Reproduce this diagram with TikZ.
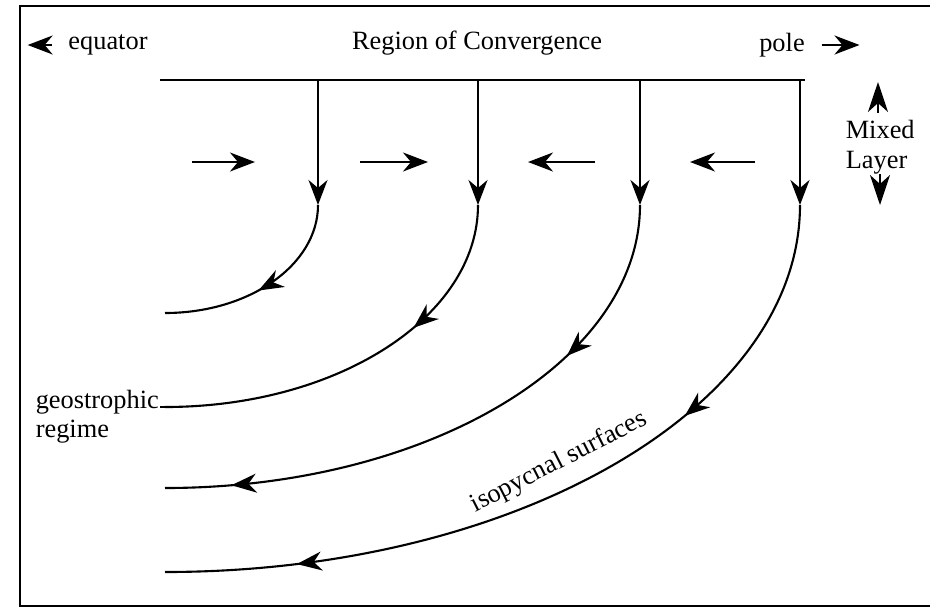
\documentclass[tikz,border=0pt]{standalone}
\usepackage{fontspec}
\setmainfont{Liberation Serif}
\usetikzlibrary{arrows.meta,decorations.markings,positioning}
\begin{document}
\begin{tikzpicture}[x=0.2mm,y=-0.2mm,
    line width=1.2pt,
    tip/.style={-{Stealth[length=5mm,width=3.8mm,inset=1.6mm]}},
    headonly/.style={-{Stealth[length=6mm,width=4mm,inset=1.8mm]},shorten <=-0.5pt},
    lbl/.style={font=\fontsize{15}{17}\selectfont,inner sep=1pt},
    midtip/.style={postaction={decorate},decoration={markings,
        mark=at position #1 with {\arrow{Stealth[length=5mm,width=3.8mm,inset=1.6mm]}}}},
    twotips/.style 2 args={postaction={decorate},decoration={markings,
        mark=at position #1 with {\arrow{Stealth[length=5mm,width=3.8mm,inset=1.6mm]}},
        mark=at position #2 with {\arrow{Stealth[length=5mm,width=3.8mm,inset=1.6mm]}}}}]
    \useasboundingbox (0,0) rectangle (930,612);
    \draw (930,6) -- (20,6) -- (20,606) -- (930,606);
    \node[lbl] (conv) at (477,43) {Region of Convergence};
    \node[lbl] (equator) at (108,45) {equator};
    \node[lbl] (pole) at (782,45) {pole};
    \draw[tip] (equator.west) ++(-14,0) coordinate (eqs) -- ++(-24,0) coordinate (eqe);
    \draw[tip] (pole.east) ++(14,0) coordinate (pls) -- ++(38,0) coordinate (ple);
    \draw (160,80) -- (805,80);
    \coordinate (t1) at (318,80);  \coordinate (s1) at (318,205);
    \coordinate (t2) at (478,80);  \coordinate (s2) at (478,205);
    \coordinate (t3) at (640,80);  \coordinate (s3) at (640,205);
    \coordinate (t4) at (800,80);  \coordinate (s4) at (800,205);
    \draw[tip] (t1) -- (s1);
    \draw[tip] (t2) -- (s2);
    \draw[tip] (t3) -- (s3);
    \draw[tip] (t4) -- (s4);
    \draw[midtip=0.53] (s1) arc[start angle=0,end angle=90,x radius=153,y radius=108] coordinate (e1);
    \draw[midtip=0.35] (s2) arc[start angle=0,end angle=90,x radius=313,y radius=202] coordinate (e2);
    \draw[twotips={0.285}{0.89}] (s3) arc[start angle=0,end angle=90,x radius=475,y radius=283] coordinate (e3);
    \draw[twotips={0.31}{0.835}] (s4) arc[start angle=0,end angle=90,x radius=635,y radius=367] coordinate (e4);
    \draw[tip] (192,162) coordinate (h1) -- (255,162) coordinate (h1e);
    \draw[tip] (360,162) coordinate (h2) -- (428,162) coordinate (h2e);
    \draw[tip] (595,162) coordinate (h3) -- (528,162) coordinate (h3e);
    \draw[tip] (755,162) coordinate (h4) -- (690,162) coordinate (h4e);
    \node[lbl,align=left,anchor=west] (mixed) at (843,147) {Mixed\\Layer};
    \draw[headonly] (878,112) coordinate (ua) -- (878,82) coordinate (ub);
    \draw[headonly] (880,175) coordinate (da) -- (880,205) coordinate (db);
    \node[lbl,align=left,anchor=north west] (geo) at (33,387) {geostrophic\\regime};
    \draw (e2) -- (160,407);
    \node[lbl,anchor=base,rotate=27] (iso) at (562,468) {isopycnal surfaces};
\end{tikzpicture}
\end{document}
